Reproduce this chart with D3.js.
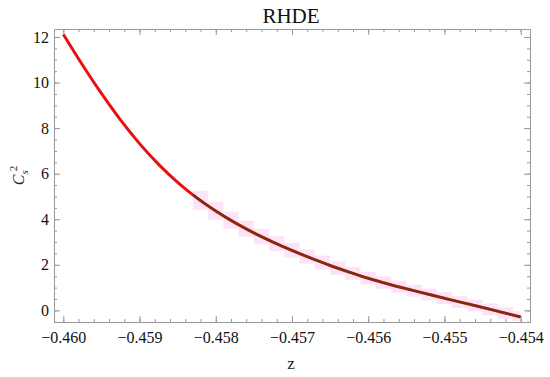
<!DOCTYPE html>
<html>
<head>
    <meta charset="utf-8">
    <script src="https://cdnjs.cloudflare.com/ajax/libs/d3/7.8.5/d3.min.js"></script>
    <style>
        body { margin: 0; background: #fff; }
    </style>
</head>
<body>
    <div id="chart"></div>
    <script>
        // values
        const zValues = [-0.46000, -0.45975, -0.45950, -0.45925, -0.45900, -0.45875, -0.45850,
                         -0.45825, -0.45800, -0.45775, -0.45750, -0.45725, -0.45700, -0.45675,
                         -0.45650, -0.45625, -0.45600, -0.45575, -0.45550, -0.45525, -0.45500,
                         -0.45475, -0.45450, -0.45425, -0.45400];
        const cs2Values = [12.12, 10.78, 9.52, 8.36, 7.32, 6.41, 5.62,
                           4.94, 4.36, 3.85, 3.40, 3.00, 2.63, 2.29,
                           1.97, 1.68, 1.41, 1.17, 0.95, 0.74, 0.53,
                           0.33, 0.13, -0.08, -0.29];
        const xTicks = [-0.460, -0.459, -0.458, -0.457, -0.456, -0.455, -0.454];
        const yTicks = [0, 2, 4, 6, 8, 10, 12];
        const darkFrom = -0.4583;   // where the darker overlay starts

        const W = 550, H = 377;
        const m = {left: 54, right: 20, top: 29, bottom: 55};
        const serif = "Liberation Serif";

        const svg = d3.select("#chart").append("svg")
            .attr("width", W).attr("height", H);

        const x = d3.scaleLinear().domain([-0.460122, -0.453878]).range([m.left, W - m.right]);
        const y = d3.scaleLinear().domain([-0.51, 12.35]).range([H - m.bottom, m.top]);

        const data = zValues.map((z, i) => ({z: z, v: cs2Values[i]}));

        const line = d3.line().x(d => x(d.z)).y(d => y(d.v)).curve(d3.curveMonotoneX);
        const interp = z => {
            for (let i = 0; i < data.length - 1; i++) {
                if (z >= data[i].z && z <= data[i + 1].z) {
                    const t = (z - data[i].z) / (data[i + 1].z - data[i].z);
                    return data[i].v + t * (data[i + 1].v - data[i].v);
                }
            }
            return data[data.length - 1].v;
        };

        // pink stepped band behind the curve
        const step = 0.0002;
        const bands = d3.range(darkFrom, -0.454, step);
        svg.append("g").selectAll("rect").data(bands).join("rect")
            .attr("x", d => x(d))
            .attr("width", d => x(Math.min(d + step, -0.454)) - x(d))
            .attr("y", d => y(interp(d)) - 4)
            .attr("height", d => y(interp(Math.min(d + step, -0.454))) - y(interp(d)) + 8)
            .attr("fill", "#fde3f8");

        // red curve
        svg.append("path").datum(data)
            .attr("d", line)
            .attr("fill", "none")
            .attr("stroke", "#e81010")
            .attr("stroke-width", 3);

        // darker overlay on the right part
        const darkData = data.filter(d => d.z >= darkFrom - 0.0001);
        darkData[0] = {z: darkFrom, v: interp(darkFrom)};
        svg.append("path").datum(darkData)
            .attr("d", line)
            .attr("fill", "none")
            .attr("stroke", "#6e3510")
            .attr("stroke-width", 2.2);

        // frame and ticks
        const frame = "#999";
        const axes = [
            {ax: d3.axisBottom(x), pos: `translate(0,${H - m.bottom})`, dir: "x", lab: true},
            {ax: d3.axisTop(x), pos: `translate(0,${m.top})`, dir: "x", lab: false},
            {ax: d3.axisLeft(y), pos: `translate(${m.left},0)`, dir: "y", lab: true},
            {ax: d3.axisRight(y), pos: `translate(${W - m.right},0)`, dir: "y", lab: false}
        ];
        const xMinor = d3.range(-0.4602, -0.4538, 0.0002).filter(v => v > -0.460122 && v < -0.453878);
        const yMinor = d3.range(-0.5, 12.5, 0.5).filter(v => v > -0.51 && v < 12.35);
        axes.forEach(a => {
            const isX = a.dir === "x";
            const minor = svg.append("g").attr("transform", a.pos)
                .call(a.ax.tickValues(isX ? xMinor : yMinor).tickSize(-3).tickFormat(""));
            minor.select(".domain").remove();
            minor.selectAll("line").attr("stroke", frame);
            const g = svg.append("g").attr("transform", a.pos)
                .call(a.ax.tickValues(isX ? xTicks : yTicks).tickSize(-6).tickSizeOuter(0)
                    .tickPadding(isX ? 10 : 5)
                    .tickFormat(a.lab ? (isX ? (d => d3.format(".3f")(d).replace("-", "\u2212")) : d3.format("d")) : ""));
            g.attr("font-family", serif);
            g.select(".domain").attr("stroke", frame);
            g.selectAll("line").attr("stroke", frame);
            g.selectAll("text").attr("font-size", 16).attr("fill", "#111")
                .style("font-family", serif);
        });

        // title and axis labels
        svg.append("text").attr("x", 291).attr("y", 23)
            .attr("text-anchor", "middle").attr("font-size", 21).attr("fill", "#111")
            .style("font-family", serif)
            .text("RHDE");
        svg.append("text").attr("x", 291).attr("y", 369)
            .attr("text-anchor", "middle").attr("font-size", 17).attr("fill", "#222")
            .style("font-family", serif)
            .text("z");
        const yl = svg.append("text")
            .attr("transform", `translate(24,${(m.top + H - m.bottom) / 2}) rotate(-90)`)
            .attr("text-anchor", "middle").attr("font-size", 16).attr("fill", "#222")
            .style("font-family", serif);
        yl.append("tspan").attr("font-style", "italic").text("C");
        yl.append("tspan").attr("font-size", 11).attr("dy", 4).attr("font-style", "italic").text("s");
        yl.append("tspan").attr("font-size", 11).attr("dy", -11).attr("dx", -1).text("2");
    </script>
</body>
</html>
